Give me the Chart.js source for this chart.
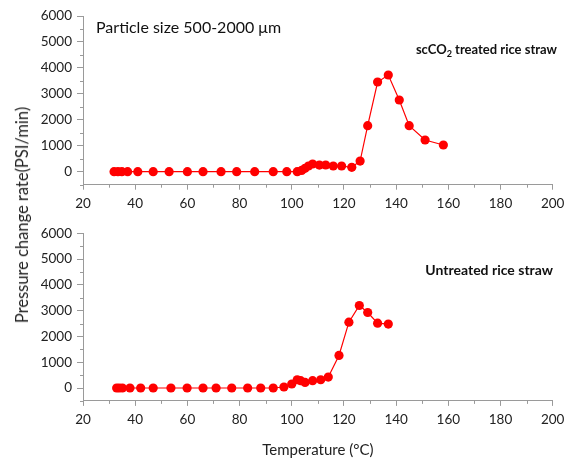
<!DOCTYPE html>
<html><head><meta charset="utf-8">
<script src="https://cdn.jsdelivr.net/npm/chart.js@4.4.0/dist/chart.umd.min.js"></script>
<style>
html,body{margin:0;padding:0;background:#fff;width:572px;height:473px;overflow:hidden;}
canvas{position:absolute;left:0;}
#c1{top:0;}
#c2{top:218px;}
#ytitle{position:absolute;left:22px;top:215px;transform:translate(-50%,-50%) rotate(-90deg);white-space:nowrap;font:16.5px Lato;color:#222;}
</style></head><body>
<canvas id="c1" width="572" height="230"></canvas>
<canvas id="c2" width="572" height="255"></canvas>
<div id="ytitle">Pressure change rate(PSI/min)</div>
<script>
// Data
const treatedTemp = [31.9, 33.4, 34.9, 37.1, 41.0, 46.9, 53.0, 60.0, 66.0, 72.9, 78.9, 85.8, 92.9, 98.1, 102.1, 103.8, 105.1, 106.4, 108.0, 110.6, 113.0, 115.9, 119.1, 123.0, 126.2, 129.1, 132.9, 137.0, 141.2, 145.0, 151.1, 158.1];
const treatedRate = [0, 0, 0, 0, 0, 0, 0, 0, 0, 0, 0, 0, 0, 0, 0, 50, 130, 220, 297, 258, 260, 220, 220, 170, 412, 1773, 3457, 3726, 2763, 1773, 1222, 1029];
const untreatedTemp = [32.9, 33.9, 35.1, 38.0, 42.1, 46.9, 53.7, 59.9, 66.0, 71.0, 77.0, 83.1, 88.1, 92.9, 97.0, 100.0, 102.1, 103.4, 105.1, 108.0, 111.1, 114.0, 118.1, 121.9, 125.9, 129.1, 132.9, 137.0];
const untreatedRate = [0, 0, 0, 0, 0, 0, 0, 0, 0, 0, 0, 0, 0, 0, 40, 155, 320, 283, 218, 283, 320, 425, 1263, 2555, 3200, 2928, 2516, 2478];
const xTickLabels = [20, 40, 60, 80, 100, 120, 140, 160, 180, 200];
const yTickLabels = [0, 1000, 2000, 3000, 4000, 5000, 6000];
const xMinorTicks = [30, 50, 70, 90, 110, 130, 150, 170, 190];
const yMinorTicks = [-500, 500, 1500, 2500, 3500, 4500, 5500];

const AXIS = '#9a9a9a';
const TEXT = '#222';
const FONT = 'Lato';

const minorTicks = {
  id: 'minorTicks',
  afterDraw(chart) {
    const ctx = chart.ctx, xs = chart.scales.x, ys = chart.scales.y;
    ctx.save();
    ctx.strokeStyle = AXIS; ctx.lineWidth = 1;
    ctx.beginPath();
    xMinorTicks.forEach(v => {
      const px = Math.round(xs.getPixelForValue(v)) + 0.5;
      ctx.moveTo(px, xs.top); ctx.lineTo(px, xs.top + 3);
    });
    yMinorTicks.forEach(v => {
      const py = Math.round(ys.getPixelForValue(v)) + 0.5;
      ctx.moveTo(ys.right, py); ctx.lineTo(ys.right - 3, py);
    });
    ctx.stroke();
    ctx.restore();
  }
};

function annot(draw) {
  return { id: 'annot', afterDraw(chart) { const ctx = chart.ctx; ctx.save(); ctx.fillStyle = '#111'; ctx.textBaseline = 'middle'; draw(ctx); ctx.restore(); } };
}

function makeChart(id, temps, rates, pad, xHeight, showTitle, plugin) {
  const data = temps.map((t, i) => ({ x: t, y: rates[i] }));
  return new Chart(document.getElementById(id), {
    type: 'scatter',
    data: { datasets: [{ data, showLine: true, borderColor: '#ff0000', borderWidth: 1.2, pointRadius: 4.6, pointBackgroundColor: '#ff0000', pointBorderWidth: 0, pointHoverRadius: 4.6 }] },
    options: {
      responsive: false, animation: false, devicePixelRatio: 1,
      layout: { padding: pad },
      plugins: { legend: { display: false }, tooltip: { enabled: false } },
      scales: {
        x: {
          type: 'linear', min: 20, max: 200,
          afterBuildTicks: s => { s.ticks = xTickLabels.map(v => ({ value: v })); },
          afterFit: s => { s.height = xHeight; },
          grid: { drawOnChartArea: false, tickLength: 5, color: AXIS, tickColor: AXIS },
          border: { color: AXIS, width: 1 },
          ticks: { color: TEXT, font: { family: FONT, size: 13.5 }, padding: 6, maxRotation: 0, callback: v => String(v) },
          title: { display: showTitle, text: 'Temperature (°C)', color: TEXT, font: { family: FONT, size: 15 }, padding: { top: 0, bottom: 14 } }
        },
        y: {
          type: 'linear', min: -500, max: 6000,
          afterBuildTicks: s => { s.ticks = yTickLabels.map(v => ({ value: v })); },
          afterFit: s => { s.width = 60; },
          grid: { drawOnChartArea: false, tickLength: 6, color: AXIS, tickColor: AXIS },
          border: { color: AXIS, width: 1 },
          ticks: { color: TEXT, font: { family: FONT, size: 13.5 }, padding: 5, callback: v => String(v) }
        }
      }
    },
    plugins: [minorTicks, plugin]
  });
}

function subLabel(ctx, parts, rightX, y, size) {
  let total = 0;
  parts.forEach(p => { ctx.font = 'bold ' + (p.sub ? size * 0.7 : size) + 'px ' + FONT; total += ctx.measureText(p.t).width; });
  let x = rightX - total;
  ctx.textAlign = 'left';
  parts.forEach(p => {
    ctx.font = 'bold ' + (p.sub ? size * 0.7 : size) + 'px ' + FONT;
    ctx.fillText(p.t, x, p.sub ? y + size * 0.3 : y);
    x += ctx.measureText(p.t).width;
  });
}

document.fonts.load('15px Lato').then(() => document.fonts.load('bold 12px Lato')).then(() => {
  makeChart('c1', treatedTemp, treatedRate, { left: 23, right: 19.3, top: 16, bottom: 15.3 }, 30, false, annot(ctx => {
    ctx.font = '16px ' + FONT; ctx.textAlign = 'left';
    ctx.fillText('Particle size 500-2000 μm', 96, 28);
    subLabel(ctx, [{ t: 'scCO' }, { t: '2', sub: true }, { t: ' treated rice straw' }], 557, 50, 13);
  }));
  makeChart('c2', untreatedTemp, untreatedRate, { left: 23, right: 19.3, top: 15.3, bottom: 0 }, 72.1, true, annot(ctx => {
    subLabel(ctx, [{ t: 'Untreated rice straw' }], 553, 52, 14);
  }));
});
</script>
</body></html>
